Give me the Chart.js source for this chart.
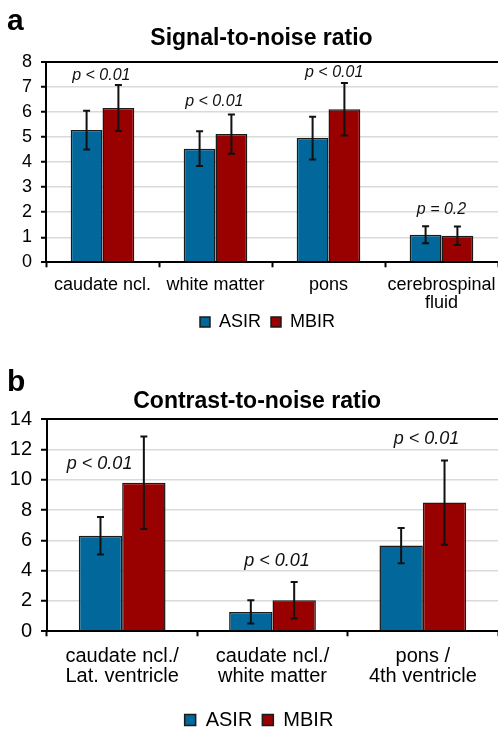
<!DOCTYPE html>
<html><head><meta charset="utf-8">
<script src="https://cdn.jsdelivr.net/npm/chart.js@4"></script>
<style>
html,body{margin:0;padding:0;background:#fff;overflow:hidden;width:498px;height:729px;}
body{position:relative;font-family:'Liberation Sans',Arial,sans-serif;}
canvas{position:absolute;left:0;}
#ca{top:0;}
#cb{top:365px;}
.lbl{position:absolute;font-weight:bold;line-height:1;color:#000;white-space:nowrap;text-align:center;z-index:2;}
</style></head><body>
<canvas id="ca" width="498" height="365"></canvas>
<canvas id="cb" width="498" height="380"></canvas>
<div class="lbl" style="left:7px;top:4.6px;font-size:30px;text-align:left;">a</div>
<div class="lbl" style="left:61.5px;width:400px;top:26.2px;font-size:23px;">Signal-to-noise ratio</div>
<div class="lbl" style="left:7px;top:366.3px;font-size:30px;text-align:left;">b</div>
<div class="lbl" style="left:57.2px;width:400px;top:388.5px;font-size:23px;">Contrast-to-noise ratio</div>
<script>
// ---- data: chart a (signal-to-noise ratio)
const snrCategories = ['caudate ncl.', 'white matter', 'pons', ['cerebrospinal', 'fluid']];
const snrAsir = [5.28, 4.54, 4.96, 1.10];
const snrAsirSd = [0.77, 0.69, 0.85, 0.34];
const snrMbir = [6.16, 5.12, 6.11, 1.06];
const snrMbirSd = [0.92, 0.78, 1.05, 0.37];
const snrP = ['p < 0.01', 'p < 0.01', 'p < 0.01', 'p = 0.2'];
const snrPAt = [7.44, 6.41, 7.57, 2.12];
const snrPCat = [-0.01, 0.99, 2.05, 3.0];
const snrTicks = [0, 1, 2, 3, 4, 5, 6, 7, 8];

// ---- data: chart b (contrast-to-noise ratio)
const cnrCategories = [['caudate ncl./', 'Lat. ventricle'], ['caudate ncl./', 'white matter'], ['pons /', '4th ventricle']];
const cnrAsir = [6.30, 1.28, 5.65];
const cnrAsirSd = [1.23, 0.76, 1.16];
const cnrMbir = [9.80, 2.05, 8.49];
const cnrMbirSd = [3.05, 1.20, 2.78];
const cnrP = ['p < 0.01', 'p < 0.01', 'p < 0.01'];
const cnrPAt = [11.01, 4.65, 12.68];
const cnrPCat = [-0.15, 1.03, 2.025];
const cnrTicks = [0, 2, 4, 6, 8, 10, 12, 14];

const seriesNames = ['ASIR', 'MBIR'];
const FONT = "'Liberation Sans', Arial, sans-serif";
const BLUE = '#02679b', RED = '#990000', EDGE = '#1a1a1a';

function errorBarPlugin(cap) {
  return {
    id: 'errorBars',
    afterDatasetsDraw(chart) {
      const {ctx} = chart; const y = chart.scales.y;
      ctx.save();
      ctx.strokeStyle = '#111'; ctx.lineWidth = 2;
      chart.data.datasets.forEach((ds, i) => {
        const meta = chart.getDatasetMeta(i);
        meta.data.forEach((el, j) => {
          const v = ds.data[j], e = ds.errors[j];
          const yt = y.getPixelForValue(v + e), yb = y.getPixelForValue(v - e);
          ctx.beginPath();
          ctx.moveTo(el.x, yt); ctx.lineTo(el.x, yb);
          ctx.moveTo(el.x - cap, yt); ctx.lineTo(el.x + cap, yt);
          ctx.moveTo(el.x - cap, yb); ctx.lineTo(el.x + cap, yb);
          ctx.stroke();
        });
      });
      ctx.restore();
    }
  };
}
function pLabelPlugin(texts, cats, at, size) {
  return {
    id: 'pLabels',
    afterDatasetsDraw(chart) {
      const {ctx} = chart; const x = chart.scales.x, y = chart.scales.y;
      ctx.save();
      ctx.font = 'italic ' + size + 'px ' + FONT;
      ctx.fillStyle = '#111'; ctx.textAlign = 'center'; ctx.textBaseline = 'middle';
      texts.forEach((t, i) => ctx.fillText(t, x.getPixelForValue(cats[i]), y.getPixelForValue(at[i])));
      ctx.restore();
    }
  };
}
function legendShift(dx, dy) {
  return { id: 'legendShift', afterLayout(chart) {
    const l = chart.legend;
    if (l) { l.left += dx; l.right += dx; l.top += dy; l.bottom += dy; }
  } };
}

function makeChart(el, o) {
  const top = o.ticks[o.ticks.length - 1];
  return new Chart(el, {
    type: 'bar',
    data: {
      labels: o.categories,
      datasets: [
        {label: seriesNames[0], data: o.asir, errors: o.asirSd, backgroundColor: BLUE, borderColor: EDGE, borderWidth: 1.5},
        {label: seriesNames[1], data: o.mbir, errors: o.mbirSd, backgroundColor: RED, borderColor: EDGE, borderWidth: 1.5}
      ]
    },
    options: {
      responsive: false, animation: false,
      categoryPercentage: o.catPct, barPercentage: 1.0,
      layout: {padding: {top: o.padTop, left: 0, right: o.padRight, bottom: 0}},
      plugins: {
        tooltip: {enabled: false},
        title: {display: false},
        legend: {
          position: 'bottom',
          labels: {font: {family: FONT, size: o.legendSize}, color: '#000', boxWidth: o.box, boxHeight: o.box, padding: 10}
        }
      },
      scales: {
        x: {
          grid: {display: true, drawOnChartArea: false, drawTicks: true, tickLength: 5, tickColor: '#000', tickWidth: 2, offset: true},
          border: {display: true, color: '#000', width: 2},
          ticks: {font: {family: FONT, size: o.fontSize, lineHeight: 1.0}, color: '#000', padding: o.xPad, maxRotation: 0, autoSkip: false},
          afterFit: s => { s.height = o.xHeight; s.paddingLeft = 0; s.paddingRight = 0; }
        },
        y: {
          min: 0, max: top,
          afterBuildTicks: a => { a.ticks = o.ticks.map(v => ({value: v})); },
          grid: {
            color: c => (c.tick && (c.tick.value === top || c.tick.value === 0)) ? '#000' : '#dadada',
            lineWidth: c => (c.tick && (c.tick.value === top || c.tick.value === 0)) ? 2 : 1.5,
            tickLength: o.yTick, tickColor: '#000', tickWidth: 2
          },
          border: {display: true, color: '#000', width: 2},
          ticks: {font: {family: FONT, size: o.fontSize}, color: '#000', padding: 9},
          afterFit: s => { s.width = o.yWidth; }
        }
      }
    },
    plugins: [errorBarPlugin(o.cap), pLabelPlugin(o.p, o.pCat, o.pAt, o.pSize), legendShift(o.legendDx, o.legendDy)]
  });
}

makeChart(document.getElementById('ca'), {
  categories: snrCategories, asir: snrAsir, asirSd: snrAsirSd, mbir: snrMbir, mbirSd: snrMbirSd,
  p: snrP, pAt: snrPAt, pCat: snrPCat, ticks: snrTicks,
  catPct: 0.563, padTop: 62, padRight: -3, xHeight: 64.7, yWidth: 46, yTick: 5,
  fontSize: 18, xPad: 9, legendSize: 18, box: 10, legendDx: 17, legendDy: -24, cap: 3.5, pSize: 16
});
makeChart(document.getElementById('cb'), {
  categories: cnrCategories, asir: cnrAsir, asirSd: cnrAsirSd, mbir: cnrMbir, mbirSd: cnrMbirSd,
  p: cnrP, pAt: cnrPAt, pCat: cnrPCat, ticks: cnrTicks,
  catPct: 0.577, padTop: 54, padRight: 0, xHeight: 73.7, yWidth: 47, yTick: 6,
  fontSize: 20, xPad: 10, legendSize: 20, box: 11, legendDx: 10, legendDy: -5, cap: 3.5, pSize: 18
});
</script>
</body></html>
